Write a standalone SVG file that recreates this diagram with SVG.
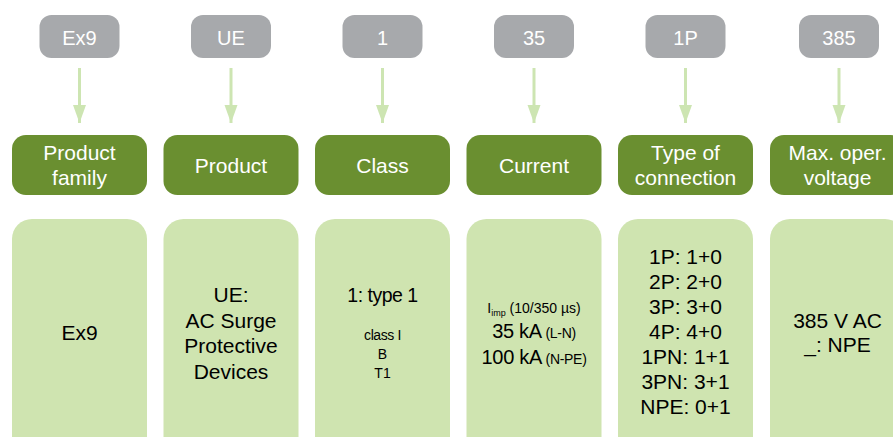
<svg xmlns="http://www.w3.org/2000/svg" width="893" height="437" viewBox="0 0 893 437">
<style>
.code{fill:#a7a9ac}
.codet{font-family:"Liberation Sans",Arial,sans-serif;font-size:20px;fill:#ffffff;text-anchor:middle}
.head{fill:#6a8f30}
.headt{font-family:"Liberation Sans",Arial,sans-serif;font-size:21px;fill:#ffffff;text-anchor:middle}
.body{fill:#cfe4b0}
.bodyt{font-family:"Liberation Sans",Arial,sans-serif;font-size:21px;fill:#000000;text-anchor:middle}
.sm{font-size:14px}
.xs{font-size:9px}
.conn line{stroke:#cde5b2;stroke-width:3}
</style>
<defs>
<marker id="ah" markerUnits="userSpaceOnUse" markerWidth="18" markerHeight="14" refX="18" refY="7" orient="auto" viewBox="0 0 18 14">
<path d="M0,0.5 L18,7 L0,13.5 Z" fill="#cde5b2"/>
</marker>
</defs>
<rect width="893" height="437" fill="#ffffff"/>
<g id="connectors" class="conn">
<line x1="79.5" y1="68" x2="79.5" y2="123" marker-end="url(#ah)"/>
<line x1="231" y1="68" x2="231" y2="123" marker-end="url(#ah)"/>
<line x1="382.5" y1="68" x2="382.5" y2="123" marker-end="url(#ah)"/>
<line x1="534" y1="68" x2="534" y2="123" marker-end="url(#ah)"/>
<line x1="685.5" y1="68" x2="685.5" y2="123" marker-end="url(#ah)"/>
<line x1="839" y1="68" x2="839" y2="123" marker-end="url(#ah)"/>
</g>
<g id="col1">
<g id="code-ex9"><rect class="code" x="39.5" y="15" width="80" height="43" rx="12"/><text class="codet" x="79.5" y="45">Ex9</text></g>
<g id="head-family"><rect class="head" x="12" y="135" width="135" height="60" rx="14"/><text class="headt" x="79.5" y="160">Product</text><text class="headt" x="79.5" y="185">family</text></g>
<g id="body-family"><rect class="body" x="12" y="219" width="135" height="240" rx="20"/><text class="bodyt" x="79.5" y="340">Ex9</text></g>
</g>
<g id="col2">
<g id="code-ue"><rect class="code" x="191" y="15" width="80" height="43" rx="12"/><text class="codet" x="231" y="45">UE</text></g>
<g id="head-product"><rect class="head" x="163.5" y="135" width="135" height="60" rx="14"/><text class="headt" x="231" y="173">Product</text></g>
<g id="body-product"><rect class="body" x="163.5" y="219" width="135" height="240" rx="20"/>
<text class="bodyt" x="231" y="302">UE:</text>
<text class="bodyt" x="231" y="327.5">AC Surge</text>
<text class="bodyt" x="231" y="353">Protective</text>
<text class="bodyt" x="231" y="378.5">Devices</text></g>
</g>
<g id="col3">
<g id="code-1"><rect class="code" x="342.5" y="15" width="80" height="43" rx="12"/><text class="codet" x="382.5" y="45">1</text></g>
<g id="head-class"><rect class="head" x="315" y="135" width="135" height="60" rx="14"/><text class="headt" x="382.5" y="173">Class</text></g>
<g id="body-class"><rect class="body" x="315" y="219" width="135" height="240" rx="20"/>
<text class="bodyt" x="382.5" y="302" style="font-size:19.5px;letter-spacing:-0.5px">1: type 1</text>
<text class="bodyt sm" x="382.5" y="340" style="letter-spacing:-0.4px">class I</text>
<text class="bodyt sm" x="382.5" y="359">B</text>
<text class="bodyt sm" x="382.5" y="378">T1</text></g>
</g>
<g id="col4">
<g id="code-35"><rect class="code" x="494" y="15" width="80" height="43" rx="12"/><text class="codet" x="534" y="45">35</text></g>
<g id="head-current"><rect class="head" x="466.5" y="135" width="135" height="60" rx="14"/><text class="headt" x="534" y="173">Current</text></g>
<g id="body-current"><rect class="body" x="466.5" y="219" width="135" height="240" rx="20"/>
<text class="bodyt sm" x="534" y="313">I<tspan class="xs" dy="3">imp</tspan><tspan dy="-3"> (10/350 µs)</tspan></text>
<text class="bodyt" x="534" y="338" style="font-size:20px;letter-spacing:-0.3px">35 kA<tspan class="sm"> (L-N)</tspan></text>
<text class="bodyt" x="534" y="364" style="font-size:20px;letter-spacing:-0.3px">100 kA<tspan class="sm"> (N-PE)</tspan></text></g>
</g>
<g id="col5">
<g id="code-1p"><rect class="code" x="645.5" y="15" width="80" height="43" rx="12"/><text class="codet" x="685.5" y="45">1P</text></g>
<g id="head-connection"><rect class="head" x="618" y="135" width="135" height="60" rx="14"/><text class="headt" x="685.5" y="160">Type of</text><text class="headt" x="685.5" y="185">connection</text></g>
<g id="body-connection"><rect class="body" x="618" y="219" width="135" height="240" rx="20"/>
<text class="bodyt" x="685.5" y="264">1P: 1+0</text>
<text class="bodyt" x="685.5" y="289">2P: 2+0</text>
<text class="bodyt" x="685.5" y="314">3P: 3+0</text>
<text class="bodyt" x="685.5" y="339">4P: 4+0</text>
<text class="bodyt" x="685.5" y="364">1PN: 1+1</text>
<text class="bodyt" x="685.5" y="389">3PN: 3+1</text>
<text class="bodyt" x="685.5" y="414">NPE: 0+1</text></g>
</g>
<g id="col6">
<g id="code-385"><rect class="code" x="799" y="15" width="80" height="43" rx="12"/><text class="codet" x="839" y="45">385</text></g>
<g id="head-voltage"><rect class="head" x="770" y="135" width="135" height="60" rx="14"/><text class="headt" x="837.5" y="160">Max. oper.</text><text class="headt" x="837.5" y="185">voltage</text></g>
<g id="body-voltage"><rect class="body" x="770" y="219" width="135" height="240" rx="20"/>
<text class="bodyt" x="837.5" y="328">385 V AC</text>
<text class="bodyt" x="837.5" y="352">_: NPE</text></g>
</g>
</svg>
